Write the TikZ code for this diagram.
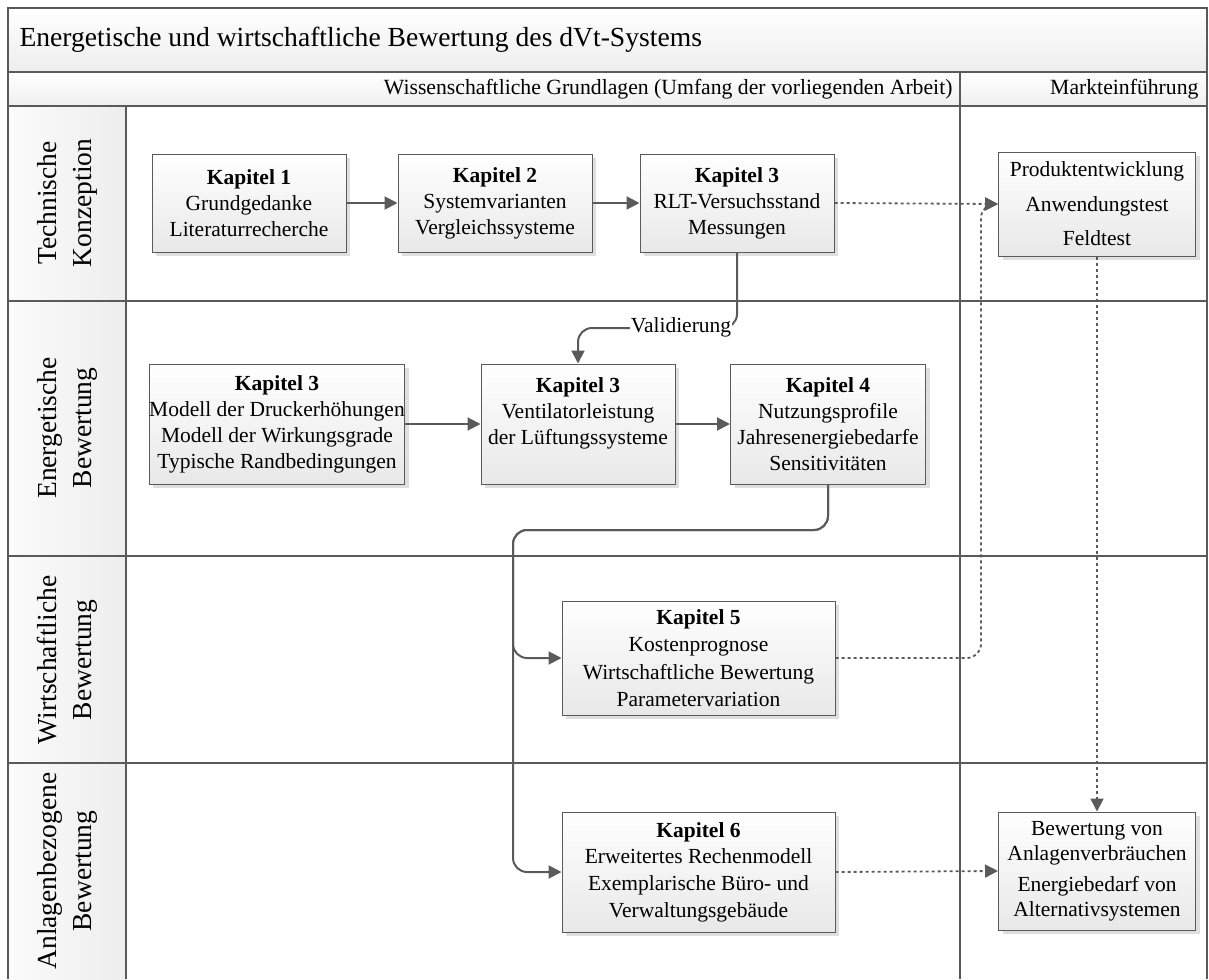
\documentclass[tikz,border=0pt]{standalone}
\usepackage{fontspec}
\setmainfont{Liberation Serif}
\usetikzlibrary{shadows,arrows.meta,calc}
\definecolor{linegray}{HTML}{5A5A5A}
\tikzset{
  frameline/.style={draw=linegray, line width=1.5pt},
  chapbox/.style={draw=linegray, line width=1pt, top color=white, bottom color=gray!18,
    drop shadow={opacity=0.25, shadow xshift=4pt, shadow yshift=-4pt},
    align=center, inner sep=0pt, font=\fontsize{21.5}{26}\selectfont},
  flow/.style={draw=linegray, line width=2pt, rounded corners=14pt,
    -{Triangle[length=13pt,width=13pt]}},
  dotflow/.style={draw=linegray, line width=1.8pt, dash pattern=on 3pt off 3pt,
    rounded corners=14pt, -{Triangle[length=13pt,width=13pt]}},
  lanelabel/.style={rotate=90, align=center, font=\fontsize{27.5}{35}\selectfont},
}
\begin{document}
\begin{tikzpicture}[x=1pt,y=-1pt]
\useasboundingbox (0,0) rectangle (1209,979);

% header bands and lane label column
\shade[top color=white, bottom color=gray!14] (8,8) rectangle (1207,72);
\shade[top color=white, bottom color=gray!12] (8,72) rectangle (1207,106);
\shade[left color=gray!3, right color=gray!14] (8,106) rectangle (126,979);

% frame and lane grid
\draw[frameline] (8,979) -- (8,8) -- (1207,8) -- (1207,979);
\draw[frameline] (8,72) -- (1207,72);
\draw[frameline] (8,106) -- (1207,106);
\draw[frameline] (960,72) -- (960,979);
\draw[frameline] (126,106) -- (126,979);
\draw[frameline] (8,301) -- (1207,301);
\draw[frameline] (8,556) -- (1207,556);
\draw[frameline] (8,763) -- (1207,763);

% header texts
\node[anchor=west, font=\fontsize{27.6}{32}\selectfont] (title) at (16,40)
  {Energetische und wirtschaftliche Bewertung des dVt-Systems};
\node[anchor=east, font=\fontsize{21.7}{26}\selectfont] (scope) at (956,89)
  {Wissenschaftliche Grundlagen (Umfang der vorliegenden Arbeit)};
\node[anchor=east, font=\fontsize{21.7}{26}\selectfont] (market) at (1202,89)
  {Markteinführung};

% lane labels
\node[lanelabel] (lane1) at (67,203) {Technische\\Konzeption};
\node[lanelabel] (lane2) at (67,428) {Energetische\\Bewertung};
\node[lanelabel] (lane3) at (67,660) {Wirtschaftliche\\Bewertung};
\node[lanelabel] (lane4) at (67,871) {Anlagenbezogene\\Bewertung};

% chapter boxes
\node[chapbox, minimum width=194pt, minimum height=98pt] (k1) at (249,203)
  {\textbf{Kapitel 1}\\Grundgedanke\\Literaturrecherche};
\node[chapbox, minimum width=194pt, minimum height=98pt] (k2) at (495,203)
  {\textbf{Kapitel 2}\\Systemvarianten\\Vergleichssysteme};
\node[chapbox, minimum width=194pt, minimum height=98pt] (k3a) at (737,203)
  {\textbf{Kapitel 3}\\RLT-Versuchsstand\\Messungen};
\node[chapbox, minimum width=197pt, minimum height=104pt,
      font=\fontsize{21.5}{34.5}\selectfont] (prod) at (1097,204)
  {Produktentwicklung\\Anwendungstest\\Feldtest};

\node[chapbox, minimum width=250pt, minimum height=120pt] (k3b) at (277,424)
  {\textbf{Kapitel 3}\\Modell der Druckerhöhungen\\Modell der Wirkungsgrade\\Typische Randbedingungen};
\node[chapbox, minimum width=194pt, minimum height=120pt] (k3c) at (578,424)
  {\textbf{Kapitel 3}\\Ventilatorleistung\\der Lüftungssysteme\\\mbox{}};
\node[chapbox, minimum width=195pt, minimum height=120pt] (k4) at (828,424)
  {\textbf{Kapitel 4}\\Nutzungsprofile\\Jahresenergiebedarfe\\Sensitivitäten};

\node[chapbox, minimum width=273pt, minimum height=114pt,
      font=\fontsize{21.5}{27.5}\selectfont] (k5) at (698.5,658)
  {\textbf{Kapitel 5}\\Kostenprognose\\Wirtschaftliche Bewertung\\Parametervariation};

\node[chapbox, minimum width=273pt, minimum height=120pt,
      font=\fontsize{21.5}{26.7}\selectfont] (k6) at (698.5,872)
  {\textbf{Kapitel 6}\\Erweitertes Rechenmodell\\Exemplarische Büro- und\\Verwaltungsgebäude};
\node[chapbox, minimum width=197pt, minimum height=118pt,
      font=\fontsize{21.5}{25}\selectfont] (eval) at (1097,871)
  {Bewertung von\\Anlagenverbräuchen\\[6pt]Energiebedarf von\\Alternativsystemen};

% solid flow
\draw[flow] (k1.east) -- (k2.west);
\draw[flow] (k2.east) -- (k3a.west);
\draw[flow] (k3b.east) -- (k3c.west);
\draw[flow] (k3c.east) -- (k4.west);
\draw[flow] (k3a.south) -- (k3a.south |- 0,328) -- (k3c.north |- 0,328) -- (k3c.north);
\node[fill=white, inner sep=1pt, font=\fontsize{21.5}{26}\selectfont] (valid) at (681,327) {Validierung};
\draw[flow] (k4.south) -- (k4.south |- 0,530) -- (513,530) -- (513,658) -- (k5.west);
\draw[flow] (k4.south) -- (k4.south |- 0,530) -- (513,530) -- (513,872) -- (k6.west);

% dotted flow into the market lane
\draw[dotflow] (k3a.east) -- (prod.west);
\coordinate (bend) at (981,658);
\draw[dotflow] (k5.east) -- (bend) -- (bend |- prod.west) -- (prod.west);
\draw[dotflow] (prod.south) -- (eval.north);
\draw[dotflow] (k6.east) -- (eval.west);
\end{tikzpicture}
\end{document}
